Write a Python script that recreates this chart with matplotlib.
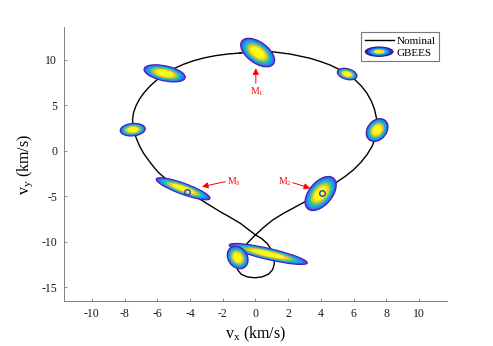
import numpy as np
import matplotlib
matplotlib.use('Agg')
import matplotlib.pyplot as plt
from matplotlib.patches import Ellipse
from matplotlib.lines import Line2D
from matplotlib.legend_handler import HandlerBase

plt.rcParams['font.family'] = 'serif'
plt.rcParams['font.serif'] = ['Liberation Serif', 'DejaVu Serif']
plt.rcParams['mathtext.fontset'] = 'custom'
plt.rcParams['mathtext.rm'] = 'Liberation Serif'
plt.rcParams['mathtext.it'] = 'Liberation Serif:italic'
plt.rcParams['mathtext.default'] = 'regular'
plt.rcParams['axes.unicode_minus'] = False

# nominal trajectory in velocity space (km/s)
nominal_vx = [-0.93, -0.02, 1.00, 2.12, 3.34, 3.95, 4.56, 5.10, 5.58, 6.05, 6.45, 6.80,
              7.08, 7.28, 7.40, 7.43, 7.34, 7.14, 6.84, 6.45, 5.98, 5.45, 4.87, 4.25,
              3.62, 3.00, 2.35, 1.68, 1.05, 0.50, 0.00, -0.45, -0.80, -1.03, -1.14, -1.10,
              -0.88, -0.50, -0.05, 0.40, 0.80, 1.05, 1.15, 1.12, 0.98, 0.72, 0.38, 0.00,
              -0.48, -0.93, -1.55, -2.16, -2.78, -3.38, -3.92, -4.42, -4.98, -5.52, -5.92, -6.23,
              -6.55, -6.84, -7.06, -7.24, -7.40, -7.49, -7.51, -7.45, -7.30, -7.08, -6.80, -6.45,
              -6.02, -5.55, -5.00, -4.40, -3.79, -3.15, -2.45, -1.70, -0.93]
nominal_vy = [10.74, 10.90, 10.88, 10.63, 10.16, 9.82, 9.42, 8.95, 8.45, 7.85, 7.15, 6.35,
              5.45, 4.50, 3.50, 2.50, 1.50, 0.55, -0.35, -1.25, -2.10, -2.85, -3.55, -4.25,
              -4.95, -5.62, -6.25, -6.90, -7.60, -8.40, -9.24, -10.05, -10.85, -11.65, -12.40, -13.05,
              -13.55, -13.85, -13.95, -13.85, -13.55, -13.05, -12.40, -11.65, -10.90, -10.20, -9.65, -9.24,
              -8.58, -7.96, -7.30, -6.69, -6.00, -5.33, -4.75, -4.19, -3.60, -3.02, -2.40, -1.75,
              -1.00, -0.27, 0.45, 1.19, 1.95, 2.70, 3.45, 4.20, 4.95, 5.70, 6.40, 7.10,
              7.80, 8.45, 9.02, 9.50, 9.89, 10.20, 10.45, 10.63, 10.74]

# GBEES density snapshots: centre, outer half-extent in vx / vy, correlation
blob_vx = [0.13, 5.60, 7.43, 3.98, -7.50, -5.55, -4.42, 0.78, -1.09]
blob_vy = [10.79, 8.43, 2.28, -4.69, 2.32, 8.51, -4.17, -11.33, -11.72]
blob_hw = [1.034, 0.596, 0.662, 0.952, 0.762, 1.258, 1.640, 2.383, 0.635]
blob_hh = [1.567, 0.630, 1.247, 1.868, 0.688, 0.937, 1.211, 1.150, 1.234]
blob_rho = [-0.531, -0.321, 0.264, 0.497, 0.13, -0.446, -0.849, -0.842, -0.217]

# measurement points
meas_vx = [4.06, -4.19]
meas_vy = [-4.60, -4.49]

parula = [(0.2810, 0.3228, 0.9579), (0.1786, 0.5289, 0.9682), (0.0689, 0.6948, 0.8394),
          (0.2161, 0.7843, 0.5923), (0.6720, 0.7793, 0.2227), (0.9970, 0.7659, 0.2199),
          (0.9769, 0.9839, 0.0805)]
ring_scale = [1.0, 0.9, 0.8, 0.71, 0.62, 0.53, 0.42]
edge_col = (0.2422, 0.1504, 0.6603)


def draw_blob(ax, cx, cy, hw, hh, rho, z):
    cov = np.array([[hw**2, rho*hw*hh], [rho*hw*hh, hh**2]])
    vals, vecs = np.linalg.eigh(cov)
    w, h = 2*np.sqrt(vals[1]), 2*np.sqrt(vals[0])
    ang = np.degrees(np.arctan2(vecs[1, 1], vecs[0, 1]))
    for k in range(len(ring_scale)):
        f = ring_scale[k]
        ax.add_patch(Ellipse((cx, cy), w*f, h*f, angle=ang, facecolor=parula[k],
                             edgecolor=edge_col if k == 0 else 'none',
                             lw=0.9 if k == 0 else 0, zorder=z + 0.01*k))


class Blob(object):
    pass


class HandlerBlob(HandlerBase):
    def create_artists(self, legend, orig_handle, xdescent, ydescent, width, height, fontsize, trans):
        cx = width/2 - xdescent
        cy = height/2 - ydescent
        out = []
        cols = [(0.16, 0.12, 0.55), (0.2, 0.35, 0.95), (0.1, 0.75, 0.85), (0.98, 0.93, 0.1)]
        for f, c in zip([1.0, 0.8, 0.6, 0.38], cols):
            e = Ellipse((cx, cy), width*f, height*1.35*f, facecolor=c, edgecolor='none')
            e.set_transform(trans)
            out.append(e)
        return out


fig = plt.figure(figsize=(4.93, 3.46), dpi=100)
ax = fig.add_axes([0.1298, 0.130, 0.7769, 0.792])

ax.plot(nominal_vx, nominal_vy, color='k', lw=1.0, solid_joinstyle='round', zorder=1)
for i in range(len(blob_vx)):
    draw_blob(ax, blob_vx[i], blob_vy[i], blob_hw[i], blob_hh[i], blob_rho[i], 2 + i*0.1)
ax.plot(meas_vx, meas_vy, 'o', ms=4, mfc='none', mec=(0.12, 0.25, 0.85), mew=1.0, zorder=4)

# maneuver labels
arrow = dict(arrowstyle='-|>', color='red', lw=0.7, mutation_scale=9, shrinkA=0, shrinkB=0)
ax.annotate('', xy=(0.02, 9.06), xytext=(0.02, 7.41), arrowprops=arrow, zorder=5)
ax.annotate('', xy=(3.34, -4.12), xytext=(2.28, -3.50), arrowprops=arrow, zorder=5)
ax.annotate('', xy=(-3.27, -3.94), xytext=(-1.85, -3.39), arrowprops=arrow, zorder=5)
ax.text(-0.32, 6.13, 'M$_1$', color='red', fontsize=7, ha='left', va='baseline')
ax.text(1.39, -3.75, 'M$_2$', color='red', fontsize=7, ha='left', va='baseline')
ax.text(-1.75, -3.75, 'M$_3$', color='red', fontsize=7, ha='left', va='baseline')

ax.set_xlim(-11.7, 11.7)
ax.set_ylim(-16.5, 13.6)
ax.set_xticks(np.arange(-10, 11, 2))
ax.set_yticks(np.arange(-15, 11, 5))
ax.tick_params(direction='in', length=2.5, width=0.6, labelsize=8.5, color='#808080',
               labelcolor='#1a1a1a', pad=5)
for s in ['top', 'right']:
    ax.spines[s].set_visible(False)
for s in ['left', 'bottom']:
    ax.spines[s].set_color('#808080')
    ax.spines[s].set_linewidth(0.7)

ax.set_xlabel('v$_x$ (km/s)', fontsize=11.5)
ax.set_ylabel('v$_y$ (km/s)', fontsize=11.5)
ax.xaxis.set_label_coords(0.5, -0.085)
ax.yaxis.set_label_coords(-0.076, 0.5)

leg = ax.legend([Line2D([], [], color='k', lw=1.0), Blob()], ['Nominal', 'GBEES'],
                handler_map={Blob: HandlerBlob()}, loc='upper right',
                bbox_to_anchor=(0.98, 0.98), fontsize=8, fancybox=False,
                handlelength=2.6, handletextpad=0.3, labelspacing=0.2, borderpad=0.3,
                borderaxespad=0)
leg.get_frame().set_edgecolor('#555555')
leg.get_frame().set_linewidth(0.8)

fig.savefig('out.png', dpi=100)
